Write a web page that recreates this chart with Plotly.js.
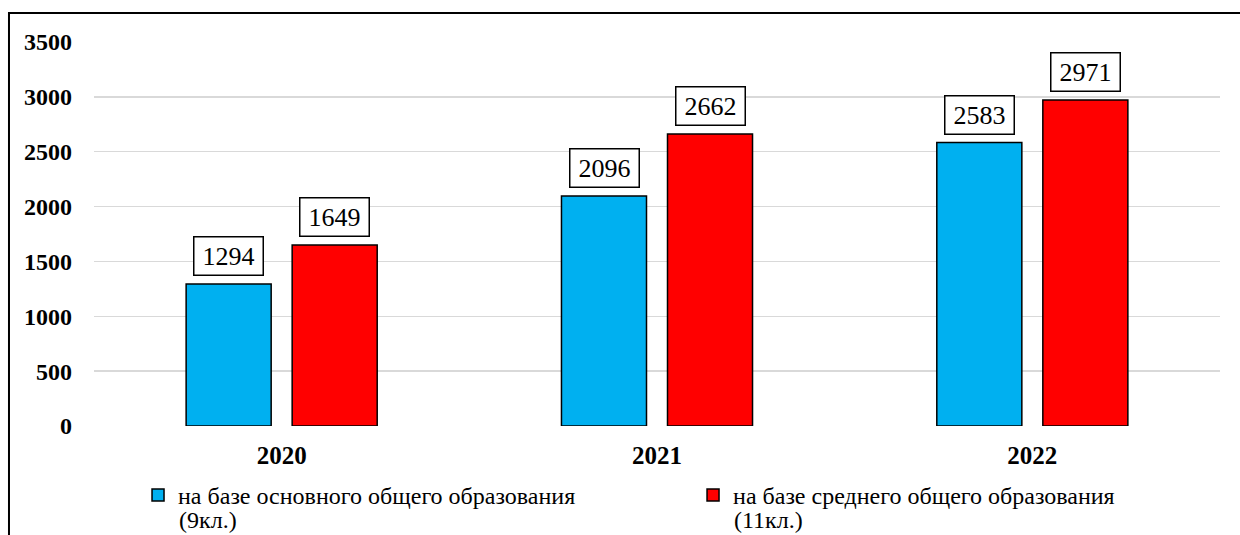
<!DOCTYPE html>
<html>
<head>
<meta charset="utf-8">
<script src="https://cdn.plot.ly/plotly-3.0.1.min.js"></script>
<style>html,body{margin:0;padding:0;background:#fff;}#chart{width:1240px;height:535px;}</style>
</head>
<body>
<div id="chart"></div>
<script>
const years = ["2020", "2021", "2022"];
const basic9 = [1294, 2096, 2583];
const secondary11 = [1649, 2662, 2971];
const seriesNames = ["на базе основного общего образования", "на базе среднего общего образования"];
const seriesNameTails = ["(9кл.)", "(11кл.)"];
const seriesColors = ["#00b0f0", "#ff0000"];
const yTicks = [0, 500, 1000, 1500, 2000, 2500, 3000, 3500];

const serif = "Liberation Serif, Times New Roman, serif";
const series = [basic9, secondary11];
const legendIds = ["legend", "legend2"];
const legendX = [0.0391, 0.532];

const traces = series.map((vals, i) => ({
  type: "bar",
  x: years,
  y: vals,
  name: seriesNames[i],
  legend: legendIds[i],
  marker: {color: seriesColors[i], line: {color: "#000", width: 1.5}},
  hoverinfo: "skip"
}));

const annotations = [];
series.forEach((vals, i) => {
  vals.forEach((v, j) => {
    annotations.push({
      x: j, y: v, xref: "x", yref: "y",
      text: String(v),
      showarrow: false,
      xshift: i === 0 ? -53 : 53,
      yanchor: "bottom",
      yshift: 8,
      font: {family: serif, size: 26, color: "#000"},
      bordercolor: "#000", borderwidth: 1.5, borderpad: 2,
      bgcolor: "#fff",
      width: 64, height: 33
    });
  });
});
// second line of each legend entry
seriesNameTails.forEach((t, i) => {
  annotations.push({
    xref: "paper", yref: "paper",
    x: legendX[i], y: -0.28,
    xanchor: "left", yanchor: "bottom",
    xshift: 40,
    text: t, showarrow: false, borderpad: 0,
    font: {family: serif, size: 24, color: "#000"}
  });
});

const legendBase = {
  orientation: "v",
  xanchor: "left",
  yanchor: "top",
  y: -0.122,
  valign: "middle",
  bgcolor: "rgba(0,0,0,0)",
  font: {family: serif, size: 24, color: "#000"},
  itemclick: false
};

const layout = {
  width: 1240, height: 535,
  margin: {l: 94, r: 20, t: 42, b: 109, autoexpand: false},
  paper_bgcolor: "#fff", plot_bgcolor: "#fff",
  barmode: "group",
  bargap: 0.435,
  bargroupgap: 0.198,
  showlegend: true,
  legend: Object.assign({}, legendBase, {x: legendX[0]}),
  legend2: Object.assign({}, legendBase, {x: legendX[1]}),
  xaxis: {
    type: "category",
    range: [-0.5, 2.5],
    autorange: false,
    showgrid: false, showline: false, zeroline: false,
    ticks: "",
    tickfont: {family: serif, size: 25, color: "#000", weight: "bold"},
    ticklabelstandoff: 12
  },
  yaxis: {
    range: [0, 3500],
    autorange: false,
    tickvals: yTicks,
    ticktext: yTicks.map(String),
    showgrid: true, gridcolor: "#d9d9d9", gridwidth: 1.5,
    zeroline: false, showline: false,
    ticks: "",
    tickfont: {family: serif, size: 24, color: "#000", weight: "bold"},
    ticklabelstandoff: 21
  },
  annotations: annotations,
  shapes: [{
    type: "rect", xref: "paper", yref: "paper",
    x0: -0.0755, x1: 1.05, y0: -0.4, y1: 1.0755,
    line: {color: "#000", width: 2}, fillcolor: "rgba(0,0,0,0)",
    layer: "below"
  }]
};

Plotly.newPlot("chart", traces, layout, {displayModeBar: false, staticPlot: true});
</script>
</body>
</html>
